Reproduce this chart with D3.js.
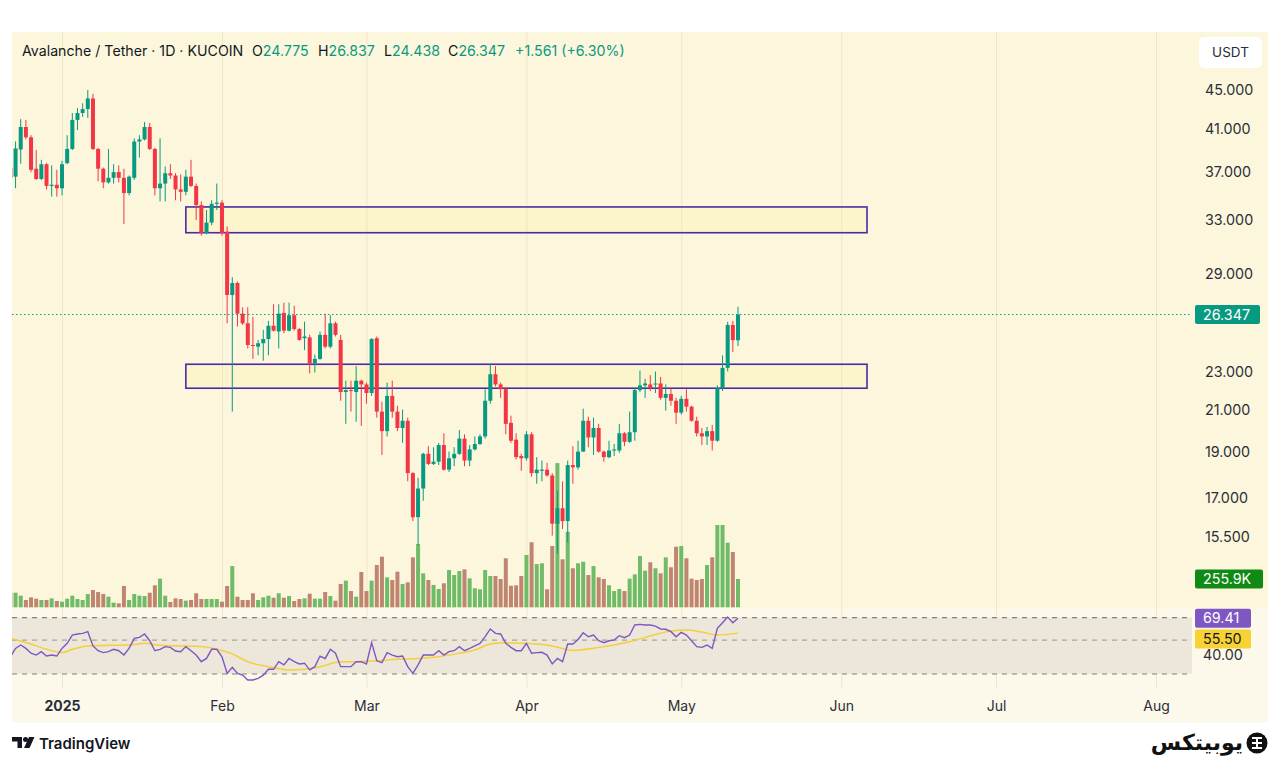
<!DOCTYPE html>
<html><head><meta charset="utf-8">
<script src="https://cdn.jsdelivr.net/npm/d3@7"></script>
<style>html,body{margin:0;padding:0;background:#fff;}svg{display:block;font-family:Inter,"Noto Sans",sans-serif;}</style>
</head><body>
<svg id="c" width="1280" height="764"></svg>
<script>
// ---------------- DATA ----------------
const firstDay = "2024-12-22";
const open = [37.4,36.6,39.05,41.2,40.2,37.3,36.4,37.7,35.8,35.9,
35.6,37.8,39.1,41.9,42.6,43.0,44.1,39.1,37.3,36.1,36.5,37.0,36.5,35.2,36.5,39.8,40.0,41.2,39.1,35.6,36.0,36.9,36.7,35.5,35.3,36.6,35.8,34.2,32.0,32.8,34.3,
34.4,32.1,27.6,28.4,26.4,25.8,24.5,24.4,24.6,24.85,25.65,25.3,26.45,25.35,26.3,25.45,24.9,24.95,23.45,23.7,25.1,24.4,25.8,24.8,21.9,22.0,21.9,22.5,
22.3,21.85,24.9,20.9,19.95,21.7,20.9,20.1,20.45,18.05,16.25,17.4,18.9,18.45,18.55,19.3,18.2,18.7,18.9,19.6,18.6,19.1,19.35,19.7,21.45,22.85,22.3,22.05,20.35,19.55,18.8,
18.7,19.8,18.05,18.15,18.2,17.95,16.0,16.6,16.1,18.4,18.3,19.0,20.45,19.65,20.1,19.0,18.75,19.05,19.05,19.85,19.45,19.9,22.0,22.25,22.3,22.3,22.35,21.6,21.8,21.45,
20.85,21.55,21.15,20.45,19.85,19.7,19.95,19.5,22.1,23.2,25.7,24.775];
const high = [37.8,39.8,41.98,41.9,40.4,39.0,38.1,37.8,37.6,37.2,
38.0,40.4,42.6,43.1,43.6,45.0,44.6,39.2,37.4,39.1,37.7,37.6,37.3,36.7,40.1,40.4,41.7,41.6,39.2,40.1,37.5,37.7,36.9,36.8,37.2,38.1,36.0,34.5,33.8,34.6,36.0,
34.6,32.5,28.8,28.5,26.8,26.8,26.2,24.8,25.4,25.95,27.0,27.0,27.1,27.1,26.9,25.5,25.9,25.1,23.95,25.3,26.4,26.3,25.9,25.1,22.5,22.5,23.3,22.55,
22.4,24.9,25.0,21.4,22.4,22.5,21.2,21.0,20.6,18.1,17.85,18.95,19.25,19.2,19.4,19.85,19.0,19.2,20.0,19.8,19.3,19.7,19.8,22.05,23.4,23.3,22.4,22.15,20.7,19.85,18.9,
19.95,19.9,18.75,18.6,18.5,18.05,17.3,17.7,18.6,19.25,19.5,21.05,20.65,20.6,20.3,19.05,19.5,19.35,20.3,19.9,20.9,22.1,23.05,22.6,22.8,23.0,22.7,22.3,22.1,21.6,
21.7,22.05,21.2,20.65,20.1,20.15,20.25,22.25,23.9,25.9,25.95,26.837];
const low = [36.3,35.6,37.75,40.0,37.0,36.3,36.3,35.5,34.9,34.9,
35.0,37.7,39.0,40.9,42.2,42.1,39.0,36.2,35.6,36.0,36.0,36.1,32.7,35.0,36.3,38.3,39.9,39.0,35.0,34.5,34.5,36.4,34.6,34.5,35.0,35.7,33.0,31.8,31.9,32.6,33.8,
31.8,25.8,20.9,25.6,25.7,24.3,23.7,23.9,23.6,23.9,25.3,24.3,25.2,25.3,25.35,24.75,24.2,22.9,22.95,23.65,24.3,24.3,25.0,21.45,20.3,20.9,20.4,20.2,
21.3,21.7,20.6,18.85,19.7,20.6,19.95,19.4,17.7,16.1,15.2,16.9,18.4,18.4,18.4,18.15,18.1,18.35,18.85,18.35,18.35,19.05,19.3,19.6,21.3,22.2,21.6,19.8,19.4,18.65,18.15,
18.6,17.9,17.6,17.7,17.9,15.55,14.9,15.8,15.3,17.6,18.2,19.0,19.2,18.85,18.95,18.55,18.7,18.8,18.95,19.25,19.4,19.5,21.9,21.6,21.95,21.85,21.5,20.95,21.2,20.3,
20.75,20.9,20.4,19.7,19.3,19.3,19.05,19.45,21.95,23.0,24.1,24.438];
const close = [36.5,39.15,41.2,40.2,37.2,36.4,37.7,35.8,35.9,35.6,
37.7,39.1,41.9,42.6,43.0,44.1,39.1,37.3,36.1,36.5,37.0,36.5,35.2,36.6,39.8,40.0,41.2,39.1,35.6,36.0,36.9,36.7,35.5,35.3,36.6,35.8,34.2,32.0,32.8,34.3,34.4,
32.0,27.6,28.4,26.4,25.8,24.5,24.45,24.6,24.85,25.65,25.35,26.4,25.35,26.3,25.45,24.8,25.0,23.45,23.7,25.1,24.4,25.8,25.1,21.9,22.0,21.95,22.5,22.3,
21.85,24.85,20.9,19.95,21.7,20.9,20.1,20.45,18.05,16.25,17.4,18.9,18.45,18.55,19.3,18.2,18.7,18.9,19.6,18.6,19.1,19.35,19.7,21.45,22.85,22.3,22.05,20.3,19.5,18.75,18.7,
19.8,18.05,18.2,18.2,17.95,16.0,16.6,16.1,18.4,18.3,19.0,20.45,19.65,20.1,19.0,18.75,19.05,19.1,19.85,19.45,19.9,22.0,22.25,22.35,22.1,22.35,21.6,21.8,21.45,20.85,
21.55,21.15,20.45,19.85,19.7,19.95,19.5,22.1,23.2,25.7,24.786,26.347];
const volumeK = [132,132,105,66,90,78,66,66,81,57,
51,78,105,75,66,120,156,138,120,96,42,36,193,66,120,105,102,132,199,259,105,48,81,75,60,66,127,75,75,75,75,
51,193,373,96,66,66,127,66,90,105,87,127,87,102,57,75,81,123,78,78,138,102,60,211,241,147,96,319,
147,241,382,458,271,247,322,211,226,452,572,307,247,202,166,217,337,292,328,343,262,172,163,337,283,283,256,443,195,199,283,
473,588,391,398,163,554,1304,434,683,353,398,412,292,373,271,256,199,147,166,147,259,298,464,331,407,353,307,452,362,548,
554,443,259,247,256,382,452,744,744,584,500,255.9];
const rsi = [38.9,44.1,46.4,44.1,41.0,39.9,42.0,39.3,39.9,39.3,
44.1,47.6,53.9,54.8,55.3,56.7,45.8,42.6,41.4,42.0,43.5,42.6,39.9,44.1,51.3,52.1,54.8,49.5,42.6,43.5,45.3,44.8,42.4,42.0,45.3,42.6,39.9,36.1,37.9,43.5,43.5,
38.9,30.3,33.2,30.3,29.5,27.4,27.4,28.1,29.5,32.2,32.2,36.1,34.4,37.9,36.1,34.9,35.3,31.9,33.5,39.3,37.9,43.5,41.0,33.5,33.5,33.5,36.1,36.1,
34.9,48.1,36.6,35.6,41.4,39.9,38.9,39.3,33.5,30.3,34.4,39.9,39.9,39.9,42.6,39.9,42.0,42.6,45.3,42.6,44.1,45.8,47.6,52.6,59.1,55.3,54.8,47.6,44.8,42.6,42.6,
47.6,41.0,41.4,41.6,39.9,34.9,37.9,36.1,47.1,47.1,50.5,55.8,52.6,53.9,49.5,48.1,49.5,50.0,53.4,51.8,53.9,62.7,63.3,62.7,62.7,61.7,59.1,58.8,56.7,52.6,
56.1,53.9,49.5,45.3,44.8,46.4,44.1,59.6,64.9,70.8,64.9,69.41];
const rsiMaDates = ["2024-12-22","2024-12-26","2024-12-29","2025-01-01","2025-01-03","2025-01-06","2025-01-10","2025-01-14","2025-01-17","2025-01-20","2025-01-24","2025-01-28","2025-01-31","2025-02-03","2025-02-06","2025-02-10","2025-02-14","2025-02-17","2025-02-20","2025-02-24","2025-02-27","2025-03-03","2025-03-07","2025-03-11","2025-03-15","2025-03-19","2025-03-22","2025-03-25","2025-03-28","2025-03-31","2025-04-03","2025-04-06","2025-04-10","2025-04-16","2025-04-21","2025-04-25","2025-04-29","2025-05-02","2025-05-05","2025-05-08","2025-05-12"];
const rsiMaValues = [51.3,47.1,43.5,41.4,43.5,45.8,46.2,46.4,47.6,46.2,45.8,45.3,43.5,40.6,36.1,33.5,31.9,32.2,33.5,36.1,36.1,36.6,37.4,37.9,38.9,41.0,43.0,47.1,48.1,47.6,47.1,45.8,42.8,45.3,48.8,53.1,57.4,58.2,56.4,53.9,55.5];
const rsiLevels = [70, 50, 30];
const rsiTickLabel = 40;
const priceTicks = [45,41,37,33,29,23,21,19,17,15.5];
const hiddenGridPrices = [50,14];
const monthDates = ["2025-01-01","2025-02-01","2025-03-01","2025-04-01","2025-05-01","2025-06-01","2025-07-01","2025-08-01"];
const monthLabels = ["2025","Feb","Mar","Apr","May","Jun","Jul","Aug"];
const zoneStart = ["2025-01-25","2025-01-25"];
const zoneEnd = ["2025-06-06","2025-06-06"];
const zoneLow = [32.02, 22.1];
const zoneHigh = [34.05, 23.4];
const symbolTitle = "Avalanche / Tether · 1D · KUCOIN";
const currency = "USDT";

// ---------------- LAYOUT ----------------
const W = 1280, H = 764;
const L = 12, R = 1268, T = 32, B = 723;
const plotR = 1192, mainBottom = 608, rsiBottom = 688;
const UP = "#089981", DOWN = "#f23645";
const VUP = "#70bb68", VDOWN = "#bf8571";
const TXT = "#2a2e39";

const dates = open.map((d, i) => d3.utcDay.offset(new Date(firstDay), i));
const n = open.length;

const x = d3.scaleUtc().domain([new Date("2025-01-01"), new Date("2025-08-01")]).range([62, 1156]);
const y = d3.scaleLog().domain([15.5, 45]).range([537, 90]);
const vy = d3.scaleLinear().domain([0, 1000]).range([607.3, 496.7]);
const ry = d3.scaleLog().domain([30, 70]).range([674, 617.7]);

const svg = d3.select("#c");
svg.append("rect").attr("width", W).attr("height", H).attr("fill", "#fff");
svg.append("rect").attr("x", L).attr("y", T).attr("width", R - L).attr("height", mainBottom - T).attr("fill", "#fcf7dc");
svg.append("rect").attr("x", L).attr("y", mainBottom).attr("width", R - L).attr("height", B - mainBottom).attr("fill", "#fcf9ea");

const defs = svg.append("defs");
defs.append("clipPath").attr("id", "mainClip").append("rect").attr("x", L).attr("y", T).attr("width", plotR - L).attr("height", mainBottom - T);
defs.append("clipPath").attr("id", "rsiClip").append("rect").attr("x", L).attr("y", mainBottom).attr("width", plotR - L).attr("height", rsiBottom - mainBottom);

// vertical grid
const vg = svg.append("g").attr("transform", `translate(0,${rsiBottom})`)
  .call(d3.axisBottom(x).tickValues(monthDates.map(d => new Date(d))).tickSize(-(rsiBottom - T)).tickFormat(""));
vg.select(".domain").remove();
vg.selectAll("line").attr("stroke", "#eee7c8").attr("stroke-width", 1);

// horizontal grid
const hg = svg.append("g").attr("transform", `translate(${plotR},0)`).attr("clip-path", "url(#mainClip)")
  .call(d3.axisRight(y).tickValues(priceTicks.concat(hiddenGridPrices)).tickSize(-(plotR - L)).tickFormat(""));
hg.select(".domain").remove();
hg.selectAll("line").attr("stroke", "#eee7c8").attr("stroke-width", 1);

// RSI pane background band + levels
const rsiG = svg.append("g");
rsiG.append("rect").attr("x", L).attr("y", ry(70)).attr("width", plotR - L).attr("height", ry(30) - ry(70)).attr("fill", "#ece6db");
rsiG.selectAll("line.lvl").data(rsiLevels).join("line")
  .attr("x1", L).attr("x2", plotR).attr("y1", d => ry(d)).attr("y2", d => ry(d))
  .attr("stroke", d => d === 50 ? "#aaa597" : "#858178").attr("stroke-width", 1.2).attr("stroke-dasharray", "5,5");

// Main plot
const main = svg.append("g").attr("clip-path", "url(#mainClip)");

// volume
const bw = 4;
main.selectAll("rect.vol").data(d3.range(n)).join("rect")
  .attr("x", i => x(dates[i]) - bw / 2).attr("width", bw)
  .attr("y", i => vy(volumeK[i])).attr("height", i => vy(0) - vy(volumeK[i]))
  .attr("fill", i => close[i] >= open[i] ? VUP : VDOWN);

// zones
main.selectAll("rect.zone").data(d3.range(zoneStart.length)).join("rect")
  .attr("x", i => x(new Date(zoneStart[i]))).attr("width", i => x(new Date(zoneEnd[i])) - x(new Date(zoneStart[i])))
  .attr("y", i => y(zoneHigh[i])).attr("height", i => y(zoneLow[i]) - y(zoneHigh[i]))
  .attr("fill", "rgba(255,232,120,0.16)").attr("stroke", "#4a2ba6").attr("stroke-width", 1.6);

// candles
const cg = main.selectAll("g.c").data(d3.range(n)).join("g");
cg.append("line").attr("x1", i => x(dates[i])).attr("x2", i => x(dates[i]))
  .attr("y1", i => y(high[i])).attr("y2", i => y(low[i]))
  .attr("stroke", i => close[i] >= open[i] ? UP : DOWN).attr("stroke-width", 1);
cg.append("rect").attr("x", i => x(dates[i]) - 2).attr("width", 4)
  .attr("y", i => y(Math.max(open[i], close[i])))
  .attr("height", i => Math.max(1, Math.abs(y(open[i]) - y(close[i]))))
  .attr("fill", i => close[i] >= open[i] ? UP : DOWN);

// last price dotted line
const last = close[n - 1];
svg.append("line").attr("x1", L).attr("x2", plotR).attr("y1", y(last)).attr("y2", y(last))
  .attr("stroke", UP).attr("stroke-width", 1).attr("stroke-dasharray", "1.5,2.5");

// RSI lines
const rsiPlot = svg.append("g").attr("clip-path", "url(#rsiClip)");
rsiPlot.append("path").datum(rsiMaDates.map((d, i) => [new Date(d), rsiMaValues[i]]))
  .attr("fill", "none").attr("stroke", "#f4cf3a").attr("stroke-width", 1.5)
  .attr("d", d3.line().x(d => x(d[0])).y(d => ry(d[1])).curve(d3.curveMonotoneX));
rsiPlot.append("path").datum(d3.range(n))
  .attr("fill", "none").attr("stroke", "#7e57c2").attr("stroke-width", 1.4)
  .attr("d", d3.line().x(i => x(dates[i])).y(i => ry(rsi[i])));

// price axis labels
const pa = svg.append("g").attr("transform", `translate(${plotR + 4},0)`)
  .call(d3.axisRight(y).tickValues(priceTicks).tickSize(0).tickPadding(9).tickFormat(d3.format(".3f")));
pa.select(".domain").remove();
pa.selectAll("text").attr("fill", TXT).attr("font-size", 14.3).attr("font-family", "Inter, sans-serif");

// time axis labels
const ta = svg.append("g").attr("transform", `translate(0,${rsiBottom + 5})`)
  .call(d3.axisBottom(x).tickValues(monthDates.map(d => new Date(d))).tickSize(0).tickPadding(8).tickFormat((d, i) => monthLabels[i]));
ta.select(".domain").remove();
ta.selectAll("text").attr("fill", TXT).attr("font-size", 14).attr("font-family", "Inter, sans-serif")
  .attr("font-weight", (d, i) => i === 0 ? 700 : 400);

// USDT button
svg.append("rect").attr("x", 1199).attr("y", 37).attr("width", 63).attr("height", 31).attr("rx", 5).attr("fill", "#fff");
svg.append("text").attr("x", 1230.5).attr("y", 57).attr("text-anchor", "middle").attr("font-size", 13.5).attr("fill", TXT).text(currency);

// value labels on axis
function tag(yc, w, fill, txt, color) {
  svg.append("rect").attr("x", 1195).attr("y", yc - 9.5).attr("width", w).attr("height", 19).attr("rx", 2).attr("fill", fill);
  svg.append("text").attr("x", 1203).attr("y", yc + 5).attr("font-size", 14.3).attr("fill", color).text(txt);
}
tag(y(last), 65, UP, d3.format(".3f")(last), "#fff");
tag(vy(volumeK[n - 1]), 68, "#0f8a15", d3.format(".1f")(volumeK[n - 1]) + "K", "#fff");
svg.append("text").attr("x", 1203).attr("y", ry(rsiTickLabel) + 5).attr("font-size", 14.3).attr("fill", TXT).text(d3.format(".2f")(rsiTickLabel));
tag(ry(rsi[n - 1]), 56, "#7e57c2", d3.format(".2f")(rsi[n - 1]), "#fff");
tag(639, 56, "#f7d232", d3.format(".2f")(rsiMaValues[rsiMaValues.length - 1]), "#131722");

// header
const prevClose = close[n - 2];
const chg = last - prevClose;
const f3 = d3.format(".3f");
const hdr = svg.append("text").attr("y", 56).attr("font-size", 14.2).attr("fill", "#131722");
hdr.append("tspan").attr("x", 22).text(symbolTitle);
const hLab = ["O", "H", "L", "C"];
const hVal = [open[n - 1], high[n - 1], low[n - 1], close[n - 1]];
const hX = [252, 318, 384, 448];
hLab.forEach((l, i) => {
  hdr.append("tspan").attr("x", hX[i]).text(l);
  hdr.append("tspan").attr("fill", UP).text(f3(hVal[i]));
});
hdr.append("tspan").attr("x", 515).attr("fill", UP).text("+" + f3(chg) + " (+" + d3.format(".2f")(chg / prevClose * 100) + "%)");

// footer: TradingView
const tv = svg.append("g");
tv.append("path").attr("d", "M12 737 h10 v11 h-4.5 v-6.5 h-5.5 z").attr("fill", "#131722");
tv.append("circle").attr("cx", 25.5).attr("cy", 739.5).attr("r", 2.5).attr("fill", "#131722");
tv.append("path").attr("d", "M29 737 h5.5 l-5 11 h-5.5 z").attr("fill", "#131722");
tv.append("text").attr("x", 39).attr("y", 749).attr("font-size", 15).attr("font-weight", 600).attr("fill", "#131722").text("TradingView");

// footer: brand
const br = svg.append("g");
br.append("circle").attr("cx", 1257).attr("cy", 743).attr("r", 10.5).attr("fill", "#111");
br.append("path").attr("d", "M1252 738 h10 M1252 743 h10 M1252 748 h10 M1257 738 v10").attr("stroke", "#fff").attr("stroke-width", 2);
br.append("text").attr("x", 1243).attr("y", 750).attr("text-anchor", "end").attr("font-size", 22).attr("font-weight", 700)
  .attr("font-family", "'DejaVu Sans', 'Noto Sans', sans-serif").attr("fill", "#111").text("یوبیتکس");
</script>
</body></html>
